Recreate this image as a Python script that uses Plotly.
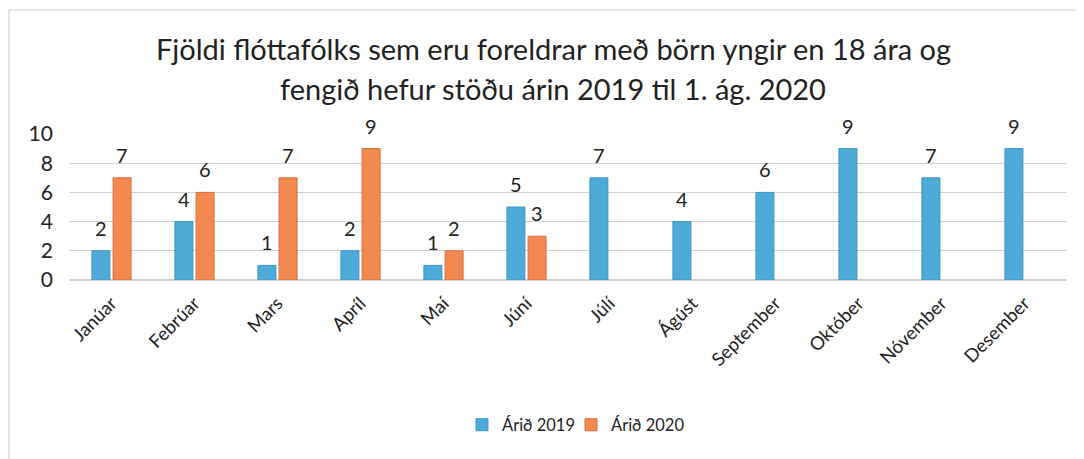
import plotly.graph_objects as go

months = ["Janúar", "Febrúar", "Mars", "Apríl", "Maí", "Júní", "Júlí",
          "Ágúst", "September", "Október", "Nóvember", "Desember"]
values_2019 = [2, 4, 1, 2, 1, 5, 7, 4, 6, 9, 7, 9]
values_2020 = [7, 6, 7, 9, 2, 3, None, None, None, None, None, None]
series_names = ["Árið 2019", "Árið 2020"]
title_lines = ["Fjöldi flóttafólks sem eru foreldrar með börn yngir en 18 ára og",
               "fengið hefur stöðu árin 2019 til 1. ág. 2020"]

FONT = "Lato, 'Open Sans', sans-serif"
blue = "rgb(78,170,214)"
orange = "rgb(242,137,80)"

W, H = 1076, 451
L, R, T, B = 62, 18, 126, 179
PW, PH = W - L - R, H - T - B
BARGAP = 0.49
offset = PW / len(months) * (1 - BARGAP) / 4

fig = go.Figure()
for k, (name, vals, col, line) in enumerate(
        [(series_names[0], values_2019, blue, "rgb(60,150,195)"),
         (series_names[1], values_2020, orange, "rgb(215,110,60)")]):
    fig.add_trace(go.Bar(
        x=months, y=vals, name=name,
        legend=("legend" if k == 0 else "legend2"),
        marker=dict(color=col, line=dict(color=line, width=1)),
    ))
    for m, v in zip(months, vals):
        if v is None:
            continue
        fig.add_annotation(x=m, y=v, text=str(v), showarrow=False,
                           xshift=(-offset if k == 0 else offset), yshift=23,
                           yanchor="middle", xanchor="center",
                           font=dict(size=20, family=FONT, color="#222"))

leg_common = dict(orientation="h", xanchor="left", y=(T + PH - 417) / PH, yanchor="middle",
                  itemwidth=30, font=dict(size=16.5, family=FONT, color="#222"),
                  bgcolor="rgba(0,0,0,0)")
fig.update_layout(
    width=W, height=H,
    margin=dict(l=L, r=R, t=T, b=B),
    paper_bgcolor="white", plot_bgcolor="white",
    barmode="group", bargap=BARGAP, bargroupgap=0.15,
    font=dict(family=FONT, color="#222"),
    showlegend=True,
    legend=dict(x=(454 - L) / PW, **leg_common),
    legend2=dict(x=(563 - L) / PW, **leg_common),
)
for line_text, yc in zip(title_lines, [40, 80]):
    fig.add_annotation(text=line_text, xref="paper", yref="paper",
                       x=(545 - L) / PW, y=(T + PH - yc) / PH,
                       xanchor="center", yanchor="middle", showarrow=False,
                       font=dict(size=29, family=FONT, color="#222"))
fig.update_xaxes(tickangle=-45, tickfont=dict(size=18.5, family=FONT, color="#222"),
                 showline=False, ticks="", ticklabelstandoff=8)
fig.update_yaxes(range=[0, 10], dtick=2, showgrid=True, gridcolor="#cfcfcf",
                 zeroline=True, zerolinecolor="#cfcfcf",
                 tickfont=dict(size=21, family=FONT, color="#222"), ticksuffix="   ")
fig.add_shape(type="rect", xref="paper", yref="paper",
              x0=(1 - L) / PW, x1=(1072 - L) / PW,
              y0=(T + PH - 460) / PH, y1=(T + PH - 2) / PH,
              line=dict(color="#cccccc", width=1))

fig.write_html("out.html")
